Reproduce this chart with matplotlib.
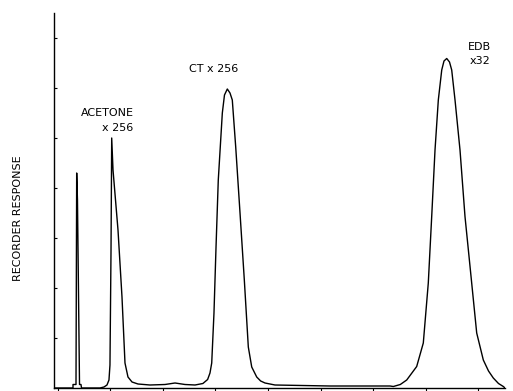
import numpy as np
import matplotlib
matplotlib.use("Agg")
import matplotlib.pyplot as plt

# chromatogram trace (retention, response)
retention = [-0.07, 0.286, 0.286, 0.343, 0.356, 0.371, 0.410, 0.438, 0.448,
             0.800, 0.876, 0.933, 0.971, 0.990, 1.010, 1.023, 1.048, 1.143,
             1.219, 1.276, 1.333, 1.410, 1.524, 1.752, 2.038, 2.229, 2.419,
             2.610, 2.760, 2.850, 2.895, 2.928, 2.971, 3.010, 3.053, 3.130,
             3.171, 3.225, 3.276, 3.320, 3.385, 3.467, 3.549, 3.625, 3.690,
             3.785, 3.860, 3.943, 4.133, 5.181, 6.324, 6.387, 6.520, 6.642,
             6.832, 6.958, 7.053, 7.118, 7.181, 7.244, 7.309, 7.352, 7.404,
             7.457, 7.499, 7.562, 7.657, 7.752, 7.848, 7.975, 8.101, 8.200,
             8.291, 8.390, 8.482, 8.514]
response = [0.0, 0.0, 0.07, 0.07, 4.30, 3.76, 0.07, 0.07, 0.0,
            0.0, 0.02, 0.06, 0.16, 0.46, 2.76, 5.00, 4.36, 3.16,
            1.82, 0.50, 0.22, 0.12, 0.08, 0.06, 0.07, 0.10, 0.07,
            0.06, 0.09, 0.17, 0.30, 0.50, 1.50, 2.82, 4.16, 5.50,
            5.86, 5.98, 5.90, 5.76, 4.82, 3.50, 2.16, 0.82, 0.42,
            0.22, 0.14, 0.10, 0.06, 0.04, 0.04, 0.03, 0.07, 0.16,
            0.43, 0.90, 2.10, 3.43, 4.76, 5.76, 6.36, 6.54, 6.59,
            6.52, 6.36, 5.76, 4.76, 3.43, 2.43, 1.10, 0.56, 0.34,
            0.20, 0.09, 0.03, 0.0]

# peak labels
labels = ["ACETONE", "x 256", "CT x 256", "EDB", "x32"]
label_x = [0.933, 1.143, 2.971, 8.019, 8.04]
label_y = [5.50, 5.20, 6.38, 6.82, 6.55]

fig = plt.figure(figsize=(5.13, 3.91), dpi=100)
ax = fig.add_axes([54 / 513, 3 / 391, 451 / 513, 375 / 391])

ax.plot(retention, response, color="black", lw=1.0)

ax.set_xlim(-0.076, 8.514)
ax.set_ylim(0, 7.5)
ax.spines["top"].set_visible(False)
ax.spines["right"].set_visible(False)
ax.spines["left"].set_linewidth(1.0)
ax.spines["bottom"].set_linewidth(1.0)

ax.set_xticks(np.arange(0, 9))
ax.set_yticks(np.arange(1, 8))
ax.tick_params(axis="y", direction="in", length=2.5, width=0.8, labelleft=False)
ax.tick_params(axis="x", direction="out", length=2, width=0.8, labelbottom=False)

for t, x, y in zip(labels, label_x, label_y):
    ax.text(x, y, t, ha="center", va="center", fontsize=8, color="black")

fig.text(18 / 513, 1 - 218 / 391, "RECORDER RESPONSE", rotation=90,
         ha="center", va="center", fontsize=8, color="black")

fig.savefig("out.png", dpi=100)
